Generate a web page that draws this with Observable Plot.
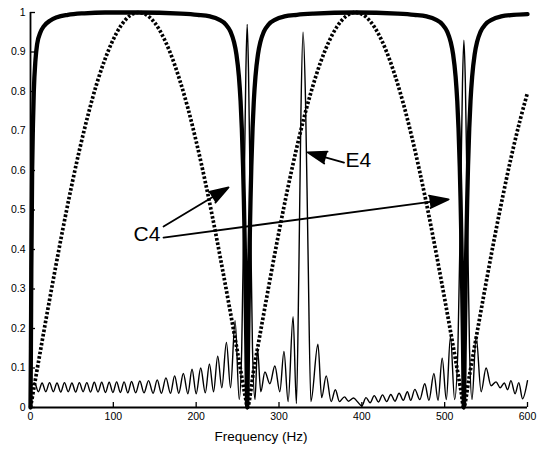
<!DOCTYPE html>
<html><head><meta charset="utf-8">
<script src="https://cdn.jsdelivr.net/npm/d3@7"></script>
<script src="https://cdn.jsdelivr.net/npm/@observablehq/plot@0.6"></script>
<style>body{margin:0;background:#fff}</style>
</head><body><div id="chart"></div>
<script>
// ---- data ----
const xTicks = [0, 100, 200, 300, 400, 500, 600];
const yTicks = [0, 0.1, 0.2, 0.3, 0.4, 0.5, 0.6, 0.7, 0.8, 0.9, 1];
const yTickLabels = ["0", "0.1", "0.2", "0.3", "0.4", "0.5", "0.6", "0.7", "0.8", "0.9", "1"];
const xLabel = "Frequency (Hz)";

// thick curve: comb/notch filter response [Hz, amplitude]
const thickCurve = [
  [0,0],[0.5,0.15],[1,0.35],[2,0.6],[3,0.72],[4,0.8],[6,0.88],[8,0.92],[12,0.95],[16,0.965],[24,0.98],[32,0.988],[45,0.994],[65,0.998],[90,1],[130,1],
  [181.6,0.997],[201.6,0.994],[216.6,0.99],[227.6,0.982],[235.6,0.97],[241.6,0.951],[245.6,0.926],[248.6,0.894],[251.6,0.838],[253.6,0.776],[255.1,0.707],[256.6,0.61],[257.6,0.524],[258.6,0.419],[259.6,0.294],[260.6,0.152],[261.6,0],
  [262.6,0.152],[263.6,0.294],[264.6,0.419],[265.6,0.524],[266.6,0.61],[268.1,0.707],[269.6,0.776],[271.6,0.838],[274.6,0.894],[277.6,0.926],[281.6,0.951],[287.6,0.97],[295.6,0.982],[306.6,0.99],[321.6,0.994],[341.6,0.997],[392,1],
  [443.2,0.997],[463.2,0.994],[478.2,0.99],[489.2,0.982],[497.2,0.97],[503.2,0.951],[507.2,0.926],[510.2,0.894],[513.2,0.838],[515.2,0.776],[516.7,0.707],[518.2,0.61],[519.2,0.524],[520.2,0.419],[521.2,0.294],[522.2,0.152],[523.2,0],
  [524.2,0.152],[525.2,0.294],[526.2,0.419],[527.2,0.524],[528.2,0.61],[529.7,0.707],[531.2,0.776],[533.2,0.838],[536.2,0.894],[539.2,0.926],[543.2,0.951],[549.2,0.97],[557.2,0.982],[568.2,0.99],[583.2,0.994],[600,0.996]
];

// dotted curve [Hz, amplitude]
const dottedCurve = [
  [0,0],[10,0.12],[20,0.238],[30,0.352],[40,0.462],[50,0.565],[60,0.66],[70,0.745],[80,0.82],[90,0.882],[100,0.932],[110,0.969],[120,0.992],[130,1],
  [140,0.994],[150,0.974],[160,0.939],[170,0.891],[180,0.83],[190,0.758],[200,0.674],[210,0.581],[220,0.479],[230,0.37],[240,0.256],[250,0.139],[260,0.019],[262,0],
  [270,0.101],[280,0.219],[290,0.334],[300,0.445],[310,0.549],[320,0.645],[330,0.732],[340,0.808],[350,0.873],[360,0.925],[370,0.964],[380,0.989],[390,1],
  [400,0.996],[410,0.978],[420,0.946],[430,0.9],[440,0.841],[450,0.77],[460,0.688],[470,0.596],[480,0.496],[490,0.388],[500,0.275],[510,0.158],[520,0.038],[523,0],
  [530,0.082],[540,0.2],[550,0.316],[560,0.428],[570,0.533],[580,0.631],[590,0.719],[600,0.797]
];

// thin curve: spectrum with C4 / E4 peaks [Hz, amplitude]
const thinCurve = [
  [1,0.055],[5,0.062],[9.5,0.04],[14,0.062],[18.5,0.04],[23,0.063],[27.5,0.04],[32,0.062],[36.5,0.039],[41,0.063],[45.5,0.04],[50,0.062],[54.5,0.039],[59,0.063],[63.5,0.04],[68,0.063],[72.5,0.039],[77,0.064],[81.5,0.039],[86,0.064],[90.5,0.038],[95,0.064],[99.5,0.038],[104,0.065],[108.5,0.038],[113,0.065],[117.5,0.037],[122,0.066],[127,0.037],[132,0.067],[137,0.037],[142.5,0.068],[148,0.036],[153,0.07],[158,0.036],[163.5,0.075],[169,0.036],[174,0.08],[179,0.036],[184.5,0.086],[190,0.035],[195,0.097],[200,0.035],[205.5,0.1],[211,0.037],[216,0.11],[221,0.04],[226,0.13],[231,0.05],[236.5,0.165],[241.5,0.05],[247,0.22],[252,0.02],
  [255,0.15],[258,0.55],[260,0.85],[261.6,0.97],[263.2,0.85],[265.2,0.55],[268,0.15],[271,0.02],
  [274,0.15],[278,0.04],[283,0.09],[289,0.06],[295,0.105],[301,0.04],[306,0.142],[311,0.015],[317,0.23],[321,0.01],
  [324,0.35],[326.5,0.75],[329,0.95],[332,0.78],[335,0.4],[338.5,0.015],
  [347,0.16],[351.5,0.025],[357,0.08],[363,0.015],[368,0.045],[373,0.015],[379,0.027],[384,0.016],[390,0.024],[395,0.014],[400,0.004],[405,0.025],[410,0.012],[415,0.03],[420,0.014],[425,0.032],[430,0.015],[435,0.033],[440,0.016],[445,0.036],[450,0.018],[455,0.04],[459,0.018],[464,0.046],[470,0.02],[476,0.06],[481,0.018],[487,0.086],[492,0.018],[497,0.125],[502,0.02],[507,0.18],[512,0.02],
  [516,0.15],[519.5,0.55],[521.5,0.82],[523.2,0.93],[525,0.82],[527,0.55],[530,0.15],[533,0.02],
  [538,0.18],[544,0.04],[550,0.1],[556,0.055],[562,0.065],[567,0.05],[572,0.062],[576,0.045],[580,0.068],[585,0.035],[589.5,0.063],[594,0.022],[600,0.068]
];

// annotations
const noteText = ["C4", "E4"];
const noteF = [124.4, 380.4];
const noteV = [0.438, 0.625];
const c4ArrowFromF = [160.6, 160.6];
const c4ArrowFromV = [0.458, 0.430];
const c4ArrowToF = [239.1, 504.8];
const c4ArrowToV = [0.557, 0.527];
const e4ArrowFromF = [422.7];
const e4ArrowFromV = [0.594];
const e4ArrowToF = [334.5];
const e4ArrowToV = [0.646];

const font = "'Liberation Sans', Arial, Helvetica, sans-serif";

const chart = Plot.plot({
  width: 537, height: 461,
  marginLeft: 30, marginRight: 10, marginTop: 12, marginBottom: 54,
  x: {domain: [0, 600]},
  y: {domain: [0, 1]},
  style: {background: "#fff", color: "#000", fontFamily: font},
  marks: [
    Plot.axisX({ticks: xTicks, tickSize: 0, tickPadding: 5, tickFormat: d => String(d), label: null, fontSize: 10.5}),
    Plot.axisY({ticks: yTicks, tickSize: 0, tickPadding: 5, tickFormat: d => yTickLabels[yTicks.indexOf(d)], label: null, fontSize: 10.5}),
    Plot.ruleY(yTicks, {x1: 0, x2: 0, insetRight: -5, stroke: "#000", strokeWidth: 1.3}),
    Plot.ruleX(xTicks, {y1: 0, y2: 0, insetBottom: 5, stroke: "#000", strokeWidth: 1.3}),
    Plot.line(thinCurve, {x: d => d[0], y: d => d[1], stroke: "#000", strokeWidth: 1.4, strokeLinejoin: "round", curve: "monotone-x"}),
    Plot.line(dottedCurve, {x: d => d[0], y: d => d[1], stroke: "#000", strokeWidth: 3.7, strokeDasharray: "2.6,1.9", strokeLinecap: "butt", curve: "catmull-rom"}),
    Plot.line(thickCurve, {x: d => d[0], y: d => d[1], stroke: "#000", strokeWidth: 4.3, curve: "monotone-x"}),
    Plot.ruleX([0], {stroke: "#000", strokeWidth: 1.8}),
    Plot.ruleY([0], {stroke: "#000", strokeWidth: 1.8}),
    Plot.arrow(c4ArrowFromF, {x1: (d, i) => c4ArrowFromF[i], y1: (d, i) => c4ArrowFromV[i], x2: (d, i) => c4ArrowToF[i], y2: (d, i) => c4ArrowToV[i], stroke: "#000", fill: "#000", strokeWidth: 1.8, headLength: 16.7, headAngle: 36}),
    Plot.arrow(e4ArrowFromF, {x1: (d, i) => e4ArrowFromF[i], y1: (d, i) => e4ArrowFromV[i], x2: (d, i) => e4ArrowToF[i], y2: (d, i) => e4ArrowToV[i], stroke: "#000", fill: "#000", strokeWidth: 1.8, headLength: 16.7, headAngle: 36, insetStart: 38}),
    Plot.text(noteText, {x: (d, i) => noteF[i], y: (d, i) => noteV[i], text: d => d, textAnchor: "start", fontSize: 21, fill: "#000"}),
    Plot.text([xLabel], {frameAnchor: "bottom", dy: 33, dx: -18, text: d => d, fontSize: 13.5, fill: "#000"})
  ]
});
document.getElementById("chart").appendChild(chart);
</script>
</body></html>
